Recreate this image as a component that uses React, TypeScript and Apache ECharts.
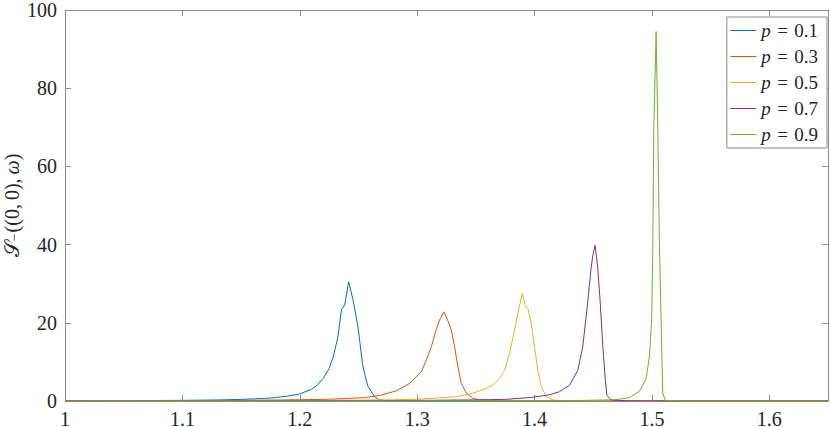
import React, { useEffect, useRef } from "react";
import * as echarts from "echarts";

const seriesNames = ["p = 0.1", "p = 0.3", "p = 0.5", "p = 0.7", "p = 0.9"];
const colors = ["#0072BD", "#D95319", "#EDB120", "#7E2F8E", "#77AC30"];

const p01: [number, number][] = [
  [1.0, 0.06], [1.05, 0.09], [1.1, 0.16], [1.13, 0.27], [1.15, 0.4], [1.17, 0.65], [1.18, 0.9],
  [1.19, 1.25], [1.2, 1.8], [1.21, 3.0], [1.215, 4.1], [1.22, 5.8], [1.225, 8.3], [1.2285, 11.3],
  [1.2325, 16.4], [1.2355, 23.3], [1.2383, 24.6], [1.2417, 30.5], [1.2454, 25.8], [1.2496, 19.0],
  [1.2534, 9.6], [1.256, 6.0], [1.2582, 3.7], [1.2638, 1.1], [1.268, 0.25], [1.28, 0.05],
  [1.3, 0.02], [1.4, 0.01], [1.65, 0],
];
const p03: [number, number][] = [
  [1.0, 0.04], [1.1, 0.09], [1.15, 0.15], [1.2, 0.32], [1.2255, 0.45], [1.2539, 0.85], [1.268, 1.4],
  [1.2823, 2.6], [1.2936, 4.5], [1.3036, 7.5], [1.3078, 10.5], [1.3121, 13.9], [1.3157, 17.7],
  [1.3191, 20.7], [1.3228, 22.8], [1.3262, 20.5], [1.3291, 18.2], [1.3319, 13.9], [1.3347, 8.8],
  [1.3376, 4.5], [1.3419, 2.0], [1.3475, 0.7], [1.353, 0.25], [1.37, 0.05], [1.4, 0.02], [1.65, 0],
];
const p05: [number, number][] = [
  [1.0, 0.03], [1.1, 0.05], [1.2, 0.12], [1.25, 0.22], [1.28, 0.33], [1.3, 0.45], [1.3191, 0.8],
  [1.3334, 1.1], [1.3475, 2.0], [1.3589, 3.2], [1.3645, 4.1], [1.3702, 5.8], [1.3745, 7.9],
  [1.3787, 12.2], [1.383, 18.2], [1.3858, 22.4], [1.3895, 27.5], [1.3923, 24.1], [1.3943, 23.7],
  [1.3972, 19.9], [1.4, 13.9], [1.4028, 7.9], [1.4057, 3.7], [1.41, 1.1], [1.4156, 0.25],
  [1.43, 0.05], [1.45, 0.02], [1.65, 0],
];
const p07: [number, number][] = [
  [1.0, 0.02], [1.2, 0.06], [1.3, 0.15], [1.35, 0.28], [1.376, 0.43], [1.3986, 0.95], [1.4128, 1.6],
  [1.4213, 2.4], [1.43, 4.1], [1.4369, 7.9], [1.4411, 13.9], [1.4454, 25.6], [1.4482, 34.0],
  [1.4497, 37.3], [1.4516, 39.8], [1.4539, 33.9], [1.4559, 25.4], [1.4581, 14.3], [1.4602, 5.8],
  [1.4616, 1.5], [1.4652, 0.25], [1.48, 0.04], [1.5, 0.02], [1.65, 0],
];
const p09: [number, number][] = [
  [1.0, 0.01], [1.3, 0.04], [1.4, 0.08], [1.44, 0.15], [1.466, 0.3], [1.4723, 0.45], [1.481, 0.9],
  [1.4894, 2.5], [1.495, 5.6], [1.4979, 11.5], [1.4998, 21], [1.5007, 38], [1.5016, 70],
  [1.5036, 94.5], [1.5049, 72], [1.5064, 40], [1.5078, 20.7], [1.5092, 2.0], [1.5115, 0.1],
  [1.53, 0.02], [1.65, 0],
];
const seriesData = [p01, p03, p05, p07, p09];

const xTicks = [1, 1.1, 1.2, 1.3, 1.4, 1.5, 1.6];
const yTicks = [0, 20, 40, 60, 80, 100];

const FONT = "'Liberation Serif', 'DejaVu Serif', serif";
const AXIS_COLOR = "#8c8c8c";
const TEXT_COLOR = "#262626";

export default function App() {
  const ref = useRef<HTMLDivElement>(null);
  useEffect(() => {
    if (!ref.current) return;
    const chart = echarts.init(ref.current, undefined, { renderer: "svg" });
    const fmtX = (v: number) => {
      const hit = xTicks.find((t) => Math.abs(t - v) < 1e-6);
      return hit === undefined ? "" : String(hit);
    };
    const baseX = {
      type: "value" as const,
      min: 1,
      max: 1.65,
      interval: 0.1,
      splitLine: { show: false },
      axisLine: { show: true, onZero: false, lineStyle: { color: AXIS_COLOR, width: 1 } },
      axisTick: { show: true, inside: true, length: 6, lineStyle: { color: AXIS_COLOR } },
    };
    const baseY = {
      type: "value" as const,
      min: 0,
      max: 100,
      interval: 20,
      splitLine: { show: false },
      axisLine: { show: true, onZero: false, lineStyle: { color: AXIS_COLOR, width: 1 } },
      axisTick: { show: true, inside: true, length: 6, lineStyle: { color: AXIS_COLOR } },
    };
    chart.setOption({
      animation: false,
      backgroundColor: "#ffffff",
      grid: { left: 65, right: 2, top: 10, bottom: 26, containLabel: false, outerBoundsMode: "none" },
      xAxis: [
        {
          ...baseX,
          position: "bottom",
          axisLabel: {
            show: true,
            margin: 10,
            color: TEXT_COLOR,
            fontFamily: FONT,
            fontSize: 20,
            lineHeight: 16,
            showMaxLabel: false,
            formatter: fmtX,
          },
        },
        { ...baseX, position: "top", axisLabel: { show: false } },
      ],
      yAxis: [
        {
          ...baseY,
          position: "left",
          name: "{s|𝒮}{sub|−}{n|((0,\u20090),\u2009}{i|ω}{n|)}",
          nameLocation: "middle",
          nameGap: 43,
          nameRotate: 90,
          nameMoveOverlap: false,
          nameTextStyle: {
            fontFamily: FONT,
            fontSize: 20,
            color: TEXT_COLOR,
            rich: {
              s: { fontFamily: FONT, fontSize: 21, color: TEXT_COLOR },
              sub: { fontFamily: FONT, fontSize: 14, color: TEXT_COLOR, padding: [6, 1, 0, 0] },
              n: { fontFamily: FONT, fontSize: 20, color: TEXT_COLOR },
              i: { fontFamily: FONT, fontSize: 20, fontStyle: "italic", color: TEXT_COLOR },
            },
          },
          axisLabel: {
            show: true,
            margin: 8,
            color: TEXT_COLOR,
            fontFamily: FONT,
            fontSize: 20,
            formatter: (v: number) => (yTicks.includes(v) ? String(v) : ""),
          },
        },
        { ...baseY, position: "right", axisLabel: { show: false } },
      ],
      legend: {
        show: true,
        orient: "vertical",
        right: 3,
        top: 17,
        padding: [4, 9, 4, 3],
        itemGap: 7,
        itemWidth: 26,
        itemHeight: 18,
        backgroundColor: "#ffffff",
        borderColor: AXIS_COLOR,
        borderWidth: 1,
        borderRadius: 0,
        itemStyle: { opacity: 0 },
        lineStyle: { width: 1 },
        data: seriesNames,
        formatter: (name: string) => {
          const rest = "\u2004=\u2004" + name.slice(4);
          return "{i|p}{n|" + rest + "}";
        },
        textStyle: {
          fontFamily: FONT,
          fontSize: 19,
          color: TEXT_COLOR,
          lineHeight: 18,
          rich: {
            i: { fontFamily: FONT, fontSize: 19, fontStyle: "italic", color: TEXT_COLOR, lineHeight: 18 },
            n: { fontFamily: FONT, fontSize: 19, color: TEXT_COLOR, lineHeight: 18 },
          },
        },
      },
      series: seriesNames.map((name, i) => ({
        name,
        type: "line",
        data: seriesData[i],
        symbol: "none",
        showSymbol: false,
        smooth: false,
        color: colors[i],
        lineStyle: { color: colors[i], width: 1 },
        xAxisIndex: 0,
        yAxisIndex: 0,
        z: 2 + i,
      })),
    });
    return () => chart.dispose();
  }, []);
  return <div ref={ref} style={{ width: 830, height: 427, position: "absolute", left: 0, top: 0 }} />;
}
